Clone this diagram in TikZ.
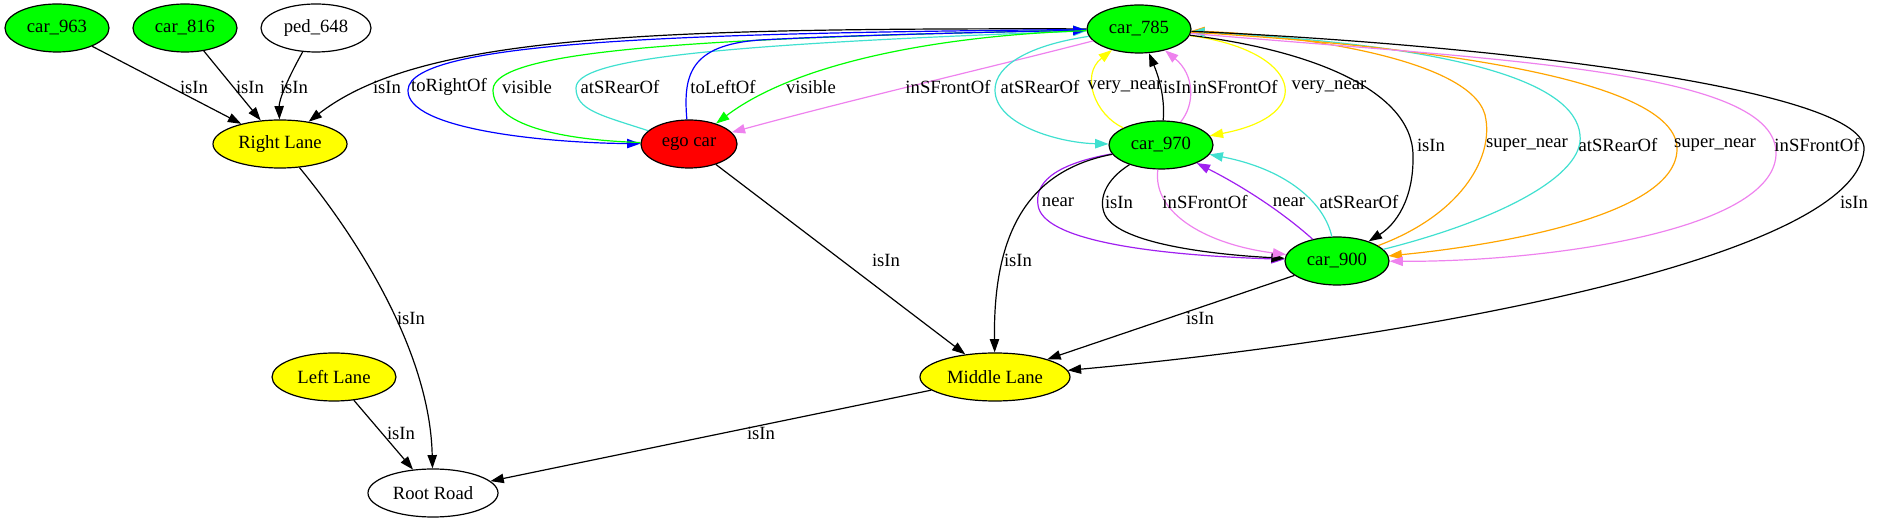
\documentclass[tikz,border=0pt]{standalone}
\usepackage{fontspec}
\setmainfont{Liberation Serif}
\usetikzlibrary{shapes.geometric,arrows.meta}
\definecolor{gvgreen}{HTML}{00FF00}
\definecolor{gvyellow}{HTML}{FFFF00}
\definecolor{gvred}{HTML}{FF0000}
\definecolor{gvblue}{HTML}{0000FF}
\definecolor{gvturq}{HTML}{40E0D0}
\definecolor{gvviolet}{HTML}{EE82EE}
\definecolor{gvorange}{HTML}{FFA500}
\definecolor{gvpurple}{HTML}{A020F0}
\begin{document}
\begin{tikzpicture}[x=0.75pt,y=-0.75pt,
  gnode/.style={ellipse,draw=black,line width=0.9pt,inner sep=0pt,minimum height=36pt,font=\fontsize{14}{16}\selectfont},
  carnode/.style={gnode,fill=gvgreen,minimum width=78pt},
  lanenode/.style={gnode,fill=gvyellow},
  rel/.style={line width=0.9pt,-{Triangle[length=10pt,width=7pt]}},
  lbl/.style={font=\fontsize{14}{16}\selectfont,inner sep=0pt,text=black}]
\useasboundingbox (0,0) rectangle (1879,523);

% nodes
\node[carnode] (c963) at (57,28) {car\_963};
\node[carnode] (c816) at (185,28) {car\_816};
\node[gnode,minimum width=82.5pt] (p648) at (316,28) {ped\_648};
\node[carnode] (c785) at (1139,29) {car\_785};
\node[lanenode,minimum width=100.5pt] (RL) at (280,144) {Right Lane};
\node[gnode,fill=gvred,minimum width=72pt] (ego) at (689,144) {ego car};
\node[carnode] (c970) at (1161,145) {car\_970};
\node[carnode] (c900) at (1337,261) {car\_900};
\node[lanenode,minimum width=93pt] (LL) at (334,377) {Left Lane};
\node[lanenode,minimum width=112.5pt] (ML) at (995,377) {Middle Lane};
\node[gnode,minimum width=97.5pt] (RR) at (433,493) {Root Road};

% into Right Lane
\draw[rel] (c963) -- (RL) node[lbl] (l1) at (194,87) {isIn};
\draw[rel] (c816) -- (RL) node[lbl] (l2) at (250,87) {isIn};
\draw[rel] (p648) .. controls (287,80) and (279,100) .. (RL) node[lbl] (l3) at (294,87) {isIn};
\draw[rel] (c785) .. controls (650,28) and (420,35) .. (RL) node[lbl] (l4) at (387,87) {isIn};

% ego car <-> car_785
\draw[rel,gvblue] (c785) .. controls (700,33) and (410,40) .. (408,90) .. controls (406,130) and (550,143) .. (ego) node[lbl] (l5) at (449,87) {toRightOf};
\draw[rel,gvgreen] (ego) .. controls (560,140) and (493,125) .. (493,90) .. controls (493,50) and (700,38) .. (c785) node[lbl] (l6) at (527,87) {visible};
\draw[rel,gvturq] (ego) .. controls (600,115) and (576,110) .. (576,88) .. controls (576,60) and (700,45) .. (c785) node[lbl] (l7) at (620,87) {atSRearOf};
\draw[rel,gvblue] (ego) .. controls (683,75) and (690,45) .. (760,40) .. controls (850,35) and (1000,32) .. (c785) node[lbl] (l8) at (723,87) {toLeftOf};
\draw[rel,gvgreen] (c785) .. controls (950,35) and (800,60) .. (ego) node[lbl] (l9) at (811,87) {visible};
\draw[rel,gvviolet] (c785) .. controls (1000,65) and (850,100) .. (ego) node[lbl] (l10) at (948,87) {inSFrontOf};

% car_785 <-> car_970
\draw[rel,gvturq] (c785) .. controls (1030,45) and (995,65) .. (995,90) .. controls (995,125) and (1060,143) .. (c970) node[lbl] (l11) at (1040,87) {atSRearOf};
\draw[rel,gvyellow] (c970) .. controls (1095,115) and (1080,75) .. (c785) node[lbl] (l12) at (1125,87) {very\_near};
\draw[rel] (c970) .. controls (1165,100) and (1160,80) .. (c785) node[lbl] (l13) at (1177,87) {isIn};
\draw[rel,gvviolet] (c970) .. controls (1195,105) and (1195,75) .. (c785) node[lbl] (l14) at (1235,87) {inSFrontOf};
\draw[rel,gvyellow] (c785) .. controls (1300,50) and (1320,115) .. (c970) node[lbl] (l15) at (1329,87) {very\_near};

% car_785 <-> car_900
\draw[rel] (c785) .. controls (1310,50) and (1412,90) .. (1413,155) .. controls (1414,200) and (1395,225) .. (c900) node[lbl] (l16) at (1431,145) {isIn};
\draw[rel,gvorange] (c900) .. controls (1460,215) and (1492,160) .. (1486,120) .. controls (1480,60) and (1300,35) .. (c785) node[lbl] (l17) at (1527,145) {super\_near};
\draw[rel,gvturq] (c900) .. controls (1500,220) and (1585,175) .. (1580,135) .. controls (1575,80) and (1450,45) .. (c785) node[lbl] (l18) at (1618,145) {atSRearOf};
\draw[rel,gvorange] (c785) .. controls (1400,45) and (1680,75) .. (1677,150) .. controls (1675,215) and (1500,245) .. (c900) node[lbl] (l19) at (1715,145) {super\_near};
\draw[rel,gvviolet] (c785) .. controls (1500,60) and (1780,70) .. (1776,155) .. controls (1772,230) and (1550,262) .. (c900) node[lbl] (l20) at (1817,145) {inSFrontOf};
\draw[rel] (c785) .. controls (1500,45) and (1870,90) .. (1864,150) .. controls (1855,260) and (1400,340) .. (ML) node[lbl] (l21) at (1854,202) {isIn};

% car_970 <-> car_900
\draw[rel,gvpurple] (c970) .. controls (1050,165) and (1035,185) .. (1038,205) .. controls (1042,240) and (1150,255) .. (c900) node[lbl] (l22) at (1058,202) {near};
\draw[rel] (c970) .. controls (1105,180) and (1098,200) .. (1105,215) .. controls (1120,245) and (1220,255) .. (c900) node[lbl] (l23) at (1119,202) {isIn};
\draw[rel,gvviolet] (c970) .. controls (1152,215) and (1210,245) .. (c900) node[lbl] (l24) at (1205,202) {inSFrontOf};
\draw[rel,gvpurple] (c900) .. controls (1280,210) and (1240,185) .. (c970) node[lbl] (l25) at (1289,202) {near};
\draw[rel,gvturq] (c900) .. controls (1325,205) and (1290,170) .. (c970) node[lbl] (l26) at (1359,202) {atSRearOf};

% into Middle Lane
\draw[rel] (c970) .. controls (1030,170) and (993,230) .. (ML) node[lbl] (l27) at (1018,260) {isIn};
\draw[rel] (ego) -- (ML) node[lbl] (l28) at (886,260) {isIn};
\draw[rel] (c900) -- (ML) node[lbl] (l29) at (1200,318) {isIn};

% into Root Road
\draw[rel] (RL) .. controls (355,235) and (430,350) .. (RR) node[lbl] (l30) at (411,318) {isIn};
\draw[rel] (LL) -- (RR) node[lbl] (l31) at (401,433) {isIn};
\draw[rel] (ML) -- (RR) node[lbl] (l32) at (761,433) {isIn};
\end{tikzpicture}
\end{document}
